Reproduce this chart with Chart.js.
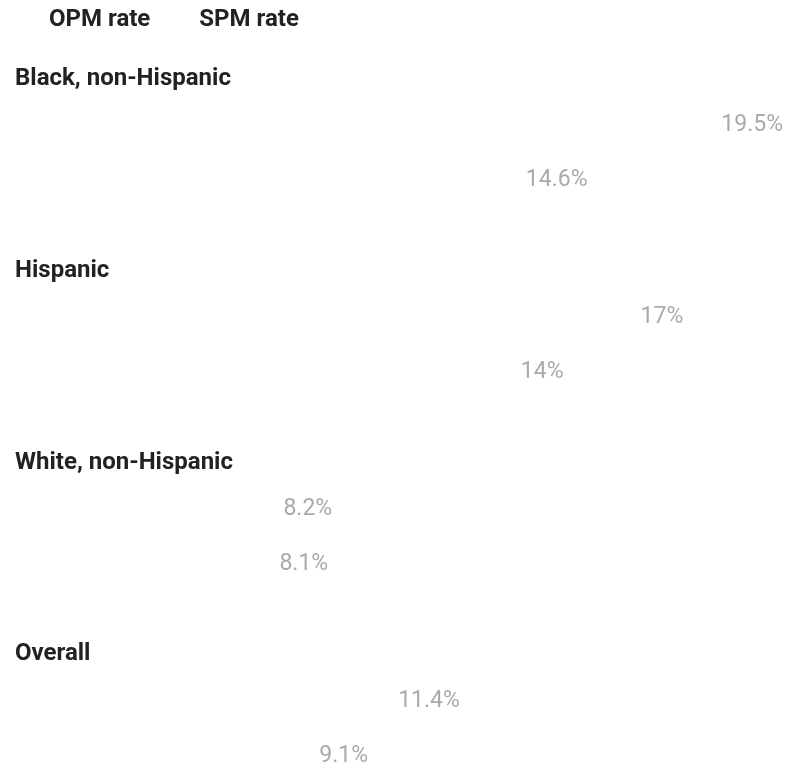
<!DOCTYPE html>
<html>
<head>
<meta charset="utf-8">
<script src="https://cdn.jsdelivr.net/npm/chart.js@4/dist/chart.umd.min.js"></script>
<style>
    html, body { margin: 0; padding: 0; background: #ffffff; }
    .chart-wrap { position: relative; width: 787px; height: 773px; }
</style>
</head>
<body>
<div class="chart-wrap">
    <canvas id="povertyChart"></canvas>
</div>
<script>
// Categories and series values
const groups = ['Black, non-Hispanic', 'Hispanic', 'White, non-Hispanic', 'Overall'];
const opmRates = [19.5, 17, 8.2, 11.4];
const spmRates = [14.6, 14, 8.1, 9.1];

// Draws the value at the end of each (white) bar
const valueLabels = {
    id: 'valueLabels',
    afterDatasetsDraw(chart) {
        const ctx = chart.ctx;
        ctx.save();
        ctx.font = '23px Roboto';
        ctx.fillStyle = '#aaaaaa';
        ctx.textAlign = 'right';
        ctx.textBaseline = 'middle';
        chart.data.datasets.forEach((ds, i) => {
            chart.getDatasetMeta(i).data.forEach((bar, j) => {
                ctx.fillText(ds.data[j] + '%', bar.x - 4, bar.y);
            });
        });
        ctx.restore();
    }
};

document.addEventListener('DOMContentLoaded', () => {
    new Chart(document.getElementById('povertyChart'), {
        type: 'bar',
        data: {
            labels: groups,
            datasets: [
                {
                    label: 'OPM rate',
                    data: opmRates,
                    backgroundColor: '#ffffff'
                },
                {
                    label: 'SPM rate',
                    data: spmRates,
                    backgroundColor: '#ffffff'
                }
            ]
        },
        options: {
            indexAxis: 'y',
            responsive: true,
            maintainAspectRatio: false,
            animation: false,
            categoryPercentage: 0.5735,
            layout: {
                padding: { left: 0, right: 0, top: 0, bottom: 44.6 }
            },
            scales: {
                x: {
                    position: 'top',
                    min: 0,
                    max: 19.5,
                    grid: { display: false },
                    border: { display: false },
                    ticks: { display: false },
                    // leave room between legend and first group
                    afterFit: scale => {
                        scale.height = 153 - scale.chart.legend.height;
                    }
                },
                y: {
                    offset: false,
                    grid: { display: false, drawTicks: false },
                    border: { display: false },
                    ticks: {
                        mirror: true,
                        padding: 6,
                        labelOffset: -74,
                        color: '#222222',
                        font: { family: 'Roboto', size: 24, weight: 'bold' }
                    },
                    afterFit: scale => {
                        scale.width = 9;
                    }
                }
            },
            plugins: {
                legend: {
                    position: 'top',
                    align: 'start',
                    labels: {
                        boxWidth: 29,
                        padding: 8,
                        color: '#222222',
                        font: { family: 'Roboto', size: 24, weight: 'bold' }
                    }
                },
                tooltip: { enabled: false }
            }
        },
        plugins: [valueLabels]
    });
});
</script>
</body>
</html>
